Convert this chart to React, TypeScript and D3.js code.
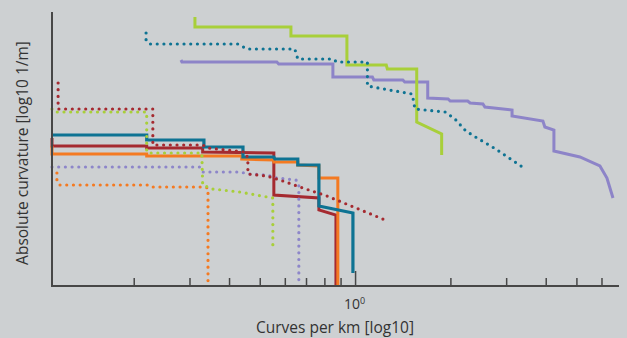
import React from "react";
import * as d3 from "d3";

// x: curves per km (log scale), y: log10 absolute curvature [1/m]
const greenSolidX = [0.311, 0.311, 0.625, 0.625, 0.939, 0.939, 1.25, 1.26, 1.56, 1.56, 1.87, 1.87];
const greenSolidY = [-0.81, -0.91, -0.91, -1.0, -1.0, -1.29, -1.29, -1.33, -1.33, -1.86, -1.98, -2.19];

const tealDotX = [0.218, 0.218, 0.223, 0.425, 0.454, 0.643, 0.657, 0.848, 0.873, 1.09, 1.09, 1.28, 1.51, 1.54, 1.92, 2.06, 2.23, 2.42, 2.77, 3.4];
const tealDotY = [-0.97, -1.04, -1.08, -1.08, -1.13, -1.13, -1.23, -1.23, -1.26, -1.26, -1.5, -1.54, -1.58, -1.73, -1.76, -1.83, -1.95, -2.02, -2.13, -2.32];

const purpleSolidX = [0.281, 0.283, 0.564, 0.572, 0.848, 0.848, 1.13, 1.142, 1.41, 1.43, 1.69, 1.69, 1.96, 1.99, 2.26, 2.3, 2.524, 2.561, 3.12, 3.12, 3.905, 3.96, 4.23, 4.23, 5.11, 5.91, 6.22, 6.5];
const purpleSolidY = [-1.24, -1.26, -1.26, -1.28, -1.28, -1.41, -1.41, -1.44, -1.44, -1.46, -1.46, -1.62, -1.63, -1.65, -1.65, -1.67, -1.68, -1.71, -1.74, -1.8, -1.85, -1.91, -1.94, -2.15, -2.21, -2.3, -2.42, -2.62];

const redSolidX = [0.11, 0.11, 0.219, 0.219, 0.329, 0.329, 0.552, 0.552, 0.766, 0.766, 0.867, 0.867];
const redSolidY = [-2.02, -2.1, -2.1, -2.12, -2.12, -2.16, -2.17, -2.59, -2.62, -2.74, -2.79, -3.5];

const orangeSolidX = [0.11, 0.11, 0.219, 0.219, 0.437, 0.437, 0.552, 0.552, 0.657, 0.657, 0.766, 0.766, 0.879, 0.879];
const orangeSolidY = [-2.1, -2.18, -2.18, -2.2, -2.2, -2.23, -2.24, -2.26, -2.26, -2.29, -2.3, -2.42, -2.42, -3.5];

const tealSolidX = [0.11, 0.219, 0.219, 0.332, 0.332, 0.441, 0.441, 0.552, 0.556, 0.657, 0.657, 0.766, 0.766, 0.981, 0.981];
const tealSolidY = [-1.99, -1.99, -2.04, -2.04, -2.11, -2.11, -2.21, -2.21, -2.23, -2.23, -2.29, -2.29, -2.7, -2.77, -3.37];

const redDotX = [0.115, 0.115, 0.229, 0.229, 0.329, 0.342, 0.447, 0.457, 0.457, 0.525, 0.577, 0.667, 0.812, 1.24];
const redDotY = [-1.47, -1.73, -1.73, -2.09, -2.09, -2.12, -2.16, -2.22, -2.38, -2.4, -2.44, -2.51, -2.6, -2.84];

const greenDotX = [0.11, 0.112, 0.219, 0.219, 0.224, 0.327, 0.329, 0.354, 0.431, 0.548, 0.548];
const greenDotY = [-1.73, -1.76, -1.76, -2.16, -2.17, -2.17, -2.49, -2.53, -2.56, -2.62, -3.1];

const purpleDotX = [0.11, 0.322, 0.329, 0.434, 0.457, 0.525, 0.564, 0.648, 0.662, 0.662];
const purpleDotY = [-2.31, -2.31, -2.36, -2.36, -2.38, -2.39, -2.42, -2.44, -2.47, -3.5];

const orangeDotX = [0.114, 0.114, 0.116, 0.224, 0.229, 0.329, 0.342, 0.342];
const orangeDotY = [-2.37, -2.45, -2.49, -2.49, -2.51, -2.51, -2.52, -3.48];

const xTicks = [0.2, 0.3, 0.4, 0.5, 0.6, 0.7, 0.8, 0.9, 1, 2, 3, 4, 5, 6];

const xTitle = "Curves per km [log10]";
const yTitle = "Absolute curvature [log10 1/m]";

const W = 627;
const H = 338;
const left = 52;
const right = 619;
const top = 12;
const bottom = 286;

const x = d3.scaleLog().domain([0.11, 6.79]).range([left, right]);
const y = d3.scaleLinear().domain([-3.5, -0.76]).range([bottom, top]);

const line = d3
  .line<[number, number]>()
  .x((d) => x(d[0]))
  .y((d) => y(d[1]));

const zip = (xs: number[], ys: number[]): [number, number][] => xs.map((v, i) => [v, ys[i]]);

const series = [
  { xs: redSolidX, ys: redSolidY, color: "#a52a30", dotted: false, w: 3 },
  { xs: orangeSolidX, ys: orangeSolidY, color: "#f47a22", dotted: false, w: 3 },
  { xs: tealSolidX, ys: tealSolidY, color: "#0e7393", dotted: false, w: 3.2 },
  { xs: purpleDotX, ys: purpleDotY, color: "#8d86c9", dotted: true, w: 3.2 },
  { xs: orangeDotX, ys: orangeDotY, color: "#f47a22", dotted: true, w: 3.2 },
  { xs: greenDotX, ys: greenDotY, color: "#a8cf3a", dotted: true, w: 3.2 },
  { xs: redDotX, ys: redDotY, color: "#a52a30", dotted: true, w: 3.2 },
  { xs: purpleSolidX, ys: purpleSolidY, color: "#8d84c8", dotted: false, w: 3 },
  { xs: greenSolidX, ys: greenSolidY, color: "#a8cf3a", dotted: false, w: 3 },
  { xs: tealDotX, ys: tealDotY, color: "#0e7393", dotted: true, w: 3.2 },
];

export default function App() {
  const font = "'Open Sans', 'Noto Sans', sans-serif";
  return (
    <svg
      width={W}
      height={H}
      style={{ position: "absolute", left: 0, top: 0, display: "block" }}
    >
      <rect x={0} y={0} width={W} height={H} fill="#cdd0d2" />
      {series.map((s, i) => (
        <path
          key={i}
          d={line(zip(s.xs, s.ys)) || ""}
          fill="none"
          stroke={s.color}
          strokeWidth={s.w}
          strokeLinejoin="miter"
          strokeLinecap={s.dotted ? "round" : "butt"}
          strokeDasharray={s.dotted ? "0 6.7" : undefined}
        />
      ))}
      <line x1={left} x2={left} y1={top} y2={bottom + 1} stroke="#474747" strokeWidth={2} />
      <line x1={left - 1} x2={right} y1={bottom} y2={bottom} stroke="#474747" strokeWidth={2} />
      {xTicks.map((t) => (
        <line
          key={t}
          x1={x(t)}
          x2={x(t)}
          y1={bottom}
          y2={bottom - (t === 1 ? 15 : 8)}
          stroke="#474747"
          strokeWidth={1.5}
        />
      ))}
      <text x={x(1) - 1} y={309} textAnchor="middle" fontFamily={font} fontSize={14} fill="#333">
        10<tspan dy={-5} fontSize={9}>0</tspan>
      </text>
      <text x={335} y={333} textAnchor="middle" fontFamily={font} fontSize={15.5} fill="#333">
        {xTitle}
      </text>
      <text
        transform={`translate(28, ${(top + bottom) / 2 + 4}) rotate(-90)`}
        textAnchor="middle"
        fontFamily={font}
        fontSize={15.5}
        fill="#333"
      >
        {yTitle}
      </text>
    </svg>
  );
}
